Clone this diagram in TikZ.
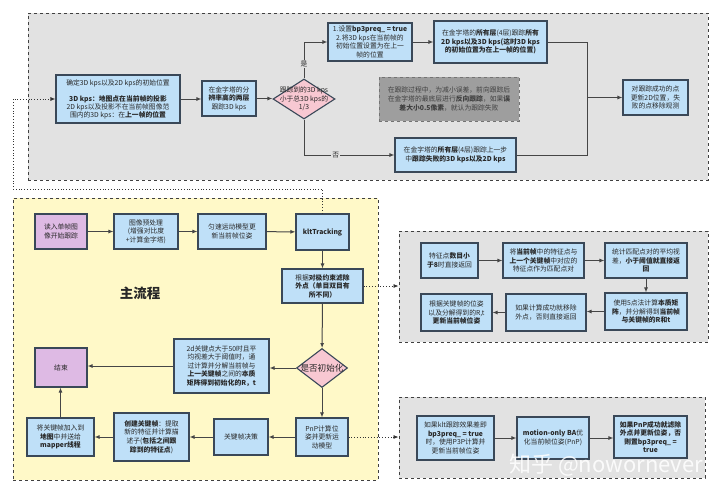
\documentclass[tikz,border=0pt]{standalone}
\usepackage{fontspec}
\setmainfont{Noto Sans CJK SC}
\usetikzlibrary{arrows.meta,shapes.geometric}
\definecolor{boxblue}{RGB}{191,224,248}
\definecolor{boxline}{RGB}{58,72,88}
\definecolor{boxpink}{RGB}{248,200,210}
\definecolor{boxpurple}{RGB}{222,186,228}
\definecolor{panelgray}{RGB}{226,226,226}
\definecolor{panelyellow}{RGB}{255,249,200}
\definecolor{notegray}{RGB}{158,158,158}
\definecolor{flowline}{RGB}{70,70,70}
\definecolor{txt}{RGB}{40,40,40}
\tikzset{
  box/.style={draw=boxline, line width=1.1pt, fill=boxblue, align=center, inner sep=1pt,
    font=\fontsize{6.8}{8.6}\selectfont, text=txt},
  purplebox/.style={box, fill=boxpurple},
  dia/.style={diamond, draw=boxline, line width=1.1pt, fill=boxpink, inner sep=0pt},
  diatext/.style={align=center, inner sep=0pt, text=txt},
  flow/.style={draw=flowline, line width=1pt, -{Latex[length=5pt,width=4pt]}},
  link/.style={draw=black!80, dotted, line width=0.8pt, -{Latex[length=5pt,width=4pt]}},
  panel/.style={draw=black!75, dashed, line width=0.9pt, inner sep=0pt},
  lab/.style={fill=panelgray, inner sep=1pt, font=\fontsize{6.8}{8}\selectfont, text=txt},
}
\begin{document}
\begin{tikzpicture}[x=1pt,y=-1pt]
\useasboundingbox (0,0) rectangle (720,493);
% panels
\node[panel, fill=panelgray, minimum width=680pt, minimum height=167pt] (trackbg) at (368,96.5) {};
\node[panel, fill=panelyellow, minimum width=365pt, minimum height=282pt] (mainbg) at (195.5,339) {};
\node[panel, fill=panelgray, minimum width=309pt, minimum height=111pt] (initbg) at (553.5,286.5) {};
\node[panel, fill=panelgray, minimum width=306pt, minimum height=81pt] (pnpbg) at (552,437.5) {};

% klt tracking detail
\node[box, minimum width=124pt, minimum height=48pt, font=\fontsize{6.8}{8}\selectfont] (b1) at (118,99)
  {确定3D kps以及2D kps的初始位置\\ \\ \textbf{3D kps：地图点在当前帧的投影}\\ 2D kps以及投影不在当前帧图像范\\ 围内的3D kps：在\textbf{上一帧的位置}};
\node[box, minimum width=54pt, minimum height=35pt] (b2) at (229,98.5)
  {在金字塔的分\\ \textbf{辨率高的两层}\\ 跟踪3D kps};
\node[dia, minimum width=62pt, minimum height=40pt] (d1) at (304,99) {};
\node[diatext, font=\fontsize{6.8}{8.6}\selectfont] (d1t) at (d1) {跟踪到的3D kps\\ 小于总3D kps的\\ 1/3};
\node[box, minimum width=84pt, minimum height=38pt] (b3) at (370,42)
  {1.设置\textbf{bp3preq\_ = true}\\ 2.将3D kps在当前帧的\\ 初始位置设置为在上一\\ 帧的位置};
\node[box, minimum width=113pt, minimum height=42pt] (b4) at (490.5,42)
  {在金字塔的\textbf{所有层}(4层)跟踪\textbf{所有}\\ \textbf{2D kps以及3D kps(这时3D kps}\\ \textbf{的初始位置为在上一帧的位置)}};
\node[box, minimum width=121pt, minimum height=34pt] (b5) at (455.5,155)
  {在金字塔的\textbf{所有层}(4层)跟踪上一步\\ 中\textbf{跟踪失败的3D kps以及2D kps}};
\node[box, minimum width=65pt, minimum height=35pt] (b6) at (655.5,97.5)
  {对跟踪成功的点\\ 更新2D位置，失\\ 败的点移除观测};
\node[box, draw=black!55, dashed, line width=0.6pt, fill=notegray, text=black!75, minimum width=140pt, minimum height=44pt] (n1) at (449,99)
  {在跟踪过程中，为减小误差，前向跟踪后\\ 在金字塔的最底层进行\textbf{反向跟踪}，如果\textbf{误}\\ \textbf{差大小0.5像素}，就认为跟踪失败};
\coordinate (m1) at (587,97.5);

\draw[flow] (b1.east) -- (b1.east -| b2.west);
\draw[flow] (b2.east) -- (b2.east -| d1.west);
\draw[flow] (d1.north) |- node[lab, pos=0.2] {是} (b3.west);
\draw[flow] (d1.south) |- node[lab, pos=0.675] {否} (b5.west);
\draw[flow] (b3.east) -- (b3.east -| b4.west);
\draw[flow, -] (b4.east) -| (m1);
\draw[flow, -] (b5.east) -| (m1);
\draw[flow] (m1) -- (b6.west);

% main flow
\node[purplebox, minimum width=52pt, minimum height=35pt] (a1) at (61,231.5) {读入单帧图\\ 像开始跟踪};
\node[box, minimum width=64pt, minimum height=35pt] (a2) at (146,231.5) {图像预处理\\ (增强对比度\\ +计算金字塔)};
\node[box, minimum width=68pt, minimum height=35pt] (a3) at (232,231.5) {匀速运动模型更\\ 新当前帧位姿};
\node[box, minimum width=53pt, minimum height=36pt] (a4) at (322.5,232) {\textbf{kltTracking}};
\node[box, minimum width=81pt, minimum height=34pt] (a5) at (322.5,286)
  {根据\textbf{对极约束滤除}\\ \textbf{外点（单目双目有}\\ \textbf{所不同）}};
\node[font=\fontsize{13.5}{15}\selectfont\bfseries, text=txt] (title) at (140,293) {主流程};
\node[dia, minimum width=51pt, minimum height=39pt] (d2) at (322,368) {};
\node[diatext, font=\fontsize{8.6}{10}\selectfont] (d2t) at (d2) {是否初始化};
\node[box, minimum width=95pt, minimum height=54pt] (f1) at (221.5,366)
  {2d关键点大于50时且平\\ 均视差大于阈值时，通\\ 过计算并分解当前帧与\\ \textbf{上一关键帧}之间的\textbf{本质}\\ \textbf{矩阵得到初始化的R，t}};
\node[purplebox, minimum width=52pt, minimum height=39pt] (e1) at (61,367.5) {结束};
\node[box, minimum width=52pt, minimum height=38pt] (p1) at (322,437) {PnP计算位\\ 姿并更新运\\ 动模型};
\node[box, minimum width=54pt, minimum height=36pt] (k1) at (241,437) {关键帧决策};
\node[box, minimum width=75pt, minimum height=48pt] (k2) at (151.5,437)
  {\textbf{创建关键帧}：提取\\ 新的特征并计算描\\ 述子(\textbf{包括之间跟}\\ \textbf{踪到的特征点})};
\node[box, minimum width=67pt, minimum height=38pt] (k3) at (60.5,437)
  {将关键帧加入到\\ \textbf{地图}中并送给\\ \textbf{mapper线程}};

\draw[flow] (a1) -- (a2);
\draw[flow] (a2) -- (a3);
\draw[flow] (a3) -- (a4);
\draw[flow] (a4) -- (a5);
\draw[flow] (a5) -- (d2);
\draw[flow] (d2.west) -- (d2.west -| f1.east);
\draw[flow] (f1.west) -- (f1.west -| e1.east);
\draw[flow] (d2) -- (p1);
\draw[flow] (p1) -- (k1);
\draw[flow] (k1) -- (k2);
\draw[flow] (k2) -- (k3);
\draw[flow] (k3) -- (k3 |- e1.south);

% initialisation detail
\node[box, minimum width=57pt, minimum height=35pt] (g1) at (449.5,260.5) {特征点\textbf{数目小}\\ \textbf{于8}时直接返回};
\node[box, minimum width=81pt, minimum height=35pt] (g2) at (543.5,260.5)
  {将\textbf{当前帧}中的特征点与\\ \textbf{上一个关键帧}中对应的\\ 特征点作为匹配点对};
\node[box, minimum width=82pt, minimum height=35pt] (g3) at (646,260.5)
  {统计匹配点对的平均视\\ 差，\textbf{小于阈值就直接返}\\ \textbf{回}};
\node[box, minimum width=82pt, minimum height=37pt] (g4) at (646,311.5)
  {使用5点法计算\textbf{本质矩}\\ \textbf{阵}，并分解得到\textbf{当前帧}\\ \textbf{与关键帧的R和t}};
\node[box, minimum width=80pt, minimum height=37pt] (g5) at (546,312.5) {如果计算成功就移除\\ 外点，否则直接返回};
\node[box, minimum width=71pt, minimum height=37pt] (g6) at (456.5,312.5)
  {根据关键帧的位姿\\ 以及分解得到的R,t\\ \textbf{更新当前帧位姿}};
\draw[flow] (g1) -- (g2);
\draw[flow] (g2) -- (g3);
\draw[flow] (g3) -- (g4);
\draw[flow] (g4.west) -- (g4.west -| g5.east);
\draw[flow] (g5) -- (g6);

% pnp detail
\node[box, minimum width=77pt, minimum height=44pt] (h1) at (455.5,438)
  {如果klt跟踪效果差即\\ \textbf{bp3preq\_ = true}\\ 时，使用P3P计算并\\ 更新当前帧位姿};
\node[box, minimum width=72pt, minimum height=42pt] (h2) at (553,438) {\textbf{motion-only BA}优\\ 化当前帧位姿(PnP)};
\node[box, minimum width=73pt, minimum height=42pt] (h3) at (650.5,437)
  {\textbf{如果PnP成功就滤除}\\ \textbf{外点并更新位姿，否}\\ \textbf{则置bp3preq\_ =}\\ \textbf{true}};
\draw[flow] (h1) -- (h2);
\draw[flow] (h2.east) -- (h2.east -| h3.west);

% dotted links between panels
\coordinate (c1) at (13,189);
\draw[link] (a4.north) |- (c1) |- (b1.west);
\draw[link] (a5.east) -- (a5.east -| initbg.west);
\draw[link] (p1.east) -- (p1.east -| pnpbg.west);

\node[text=white, fill opacity=0, text opacity=0.85, font=\fontsize{22}{24}\selectfont] (mark) at (606,465) {知乎 @nowornever};
\end{tikzpicture}
\end{document}
